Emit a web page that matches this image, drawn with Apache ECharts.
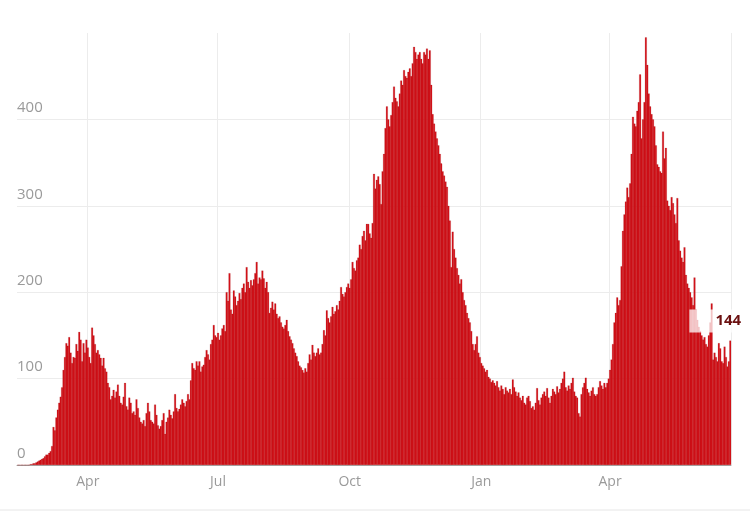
<!DOCTYPE html>
<html>
<head>
<meta charset="utf-8">
<script src="https://cdn.jsdelivr.net/npm/echarts@6/dist/echarts.min.js"></script>
<style>
html,body{margin:0;padding:0;background:#fff;}
#chart{width:750px;height:513px;}
</style>
</head>
<body>
<div id="chart"></div>
<script>
// First day of the series (daily values follow)
const startDate = '2020-02-12';
const monthNames = ['Jan','Feb','Mar','Apr','May','Jun','Jul','Aug','Sep','Oct','Nov','Dec'];
const tickMonthIdx = [0, 3, 6, 9]; // Jan, Apr, Jul, Oct
const yTicks = [0, 100, 200, 300, 400];

// Daily values (one week per row)
const dailyValues = [
  0,0,0,0,0,0,0,
  0,0,1,1,2,2,3,
  4,5,6,7,8,10,12,
  12,14,16,22,44,40,55,
  64,72,79,90,110,125,141,
  138,148,130,118,125,124,140,
  132,154,145,120,141,130,145,
  136,125,118,159,150,140,130,
  133,128,124,115,124,112,108,
  95,90,76,80,87,78,85,
  93,80,72,70,79,95,68,
  64,78,72,60,62,58,76,
  66,55,50,48,52,45,60,
  72,62,52,50,48,70,58,
  46,42,45,52,60,36,50,
  55,64,58,54,62,82,66,
  62,65,70,76,72,68,74,
  82,76,98,118,112,110,120,
  115,120,108,114,116,125,133,
  128,122,140,145,162,150,148,
  153,145,150,158,162,155,200,
  190,222,180,175,202,195,185,
  190,199,192,205,210,200,229,
  212,205,214,208,215,222,235,
  210,217,215,225,216,205,212,
  200,176,182,189,180,187,175,
  170,172,165,160,158,162,168,
  155,149,145,141,135,130,126,
  120,115,113,110,107,112,108,
  118,128,122,139,130,126,130,
  135,128,130,140,156,150,179,
  170,165,172,183,175,178,185,
  180,190,206,198,195,200,206,
  210,205,215,235,228,225,237,
  240,255,250,265,271,260,279,
  279,268,263,280,337,320,330,
  334,325,302,340,360,390,415,
  400,392,405,420,438,425,421,
  415,430,445,440,457,450,448,
  455,459,450,465,484,478,470,
  475,478,470,465,478,475,482,
  470,480,440,406,395,386,378,
  370,360,349,340,335,328,322,
  300,283,229,270,250,240,228,
  220,210,215,200,191,185,176,
  170,165,155,140,133,140,149,
  130,125,118,115,112,108,110,
  102,100,96,98,95,92,97,
  90,86,92,88,82,90,86,
  84,88,82,99,90,85,80,
  84,78,75,80,72,70,78,
  80,74,66,68,64,72,89,
  75,70,78,82,85,80,89,
  78,72,80,88,85,82,91,
  84,88,95,100,108,90,86,
  92,88,95,101,85,80,78,
  60,56,82,90,95,101,88,
  84,80,86,90,82,80,82,
  90,97,92,88,95,90,95,
  100,110,122,140,165,176,194,
  185,191,230,271,290,305,321,
  310,326,360,403,395,392,410,
  420,452,378,400,420,495,463,
  430,415,406,400,392,370,348,
  345,340,338,386,355,367,306,
  300,295,310,303,290,280,309,
  260,248,240,235,252,220,210,
  205,200,194,185,217,180,168,
  160,155,150,145,148,140,137,
  150,165,187,122,130,125,120,
  141,135,120,118,137,125,114,
  120,144
];

// Build date categories
const dates = [];
(function(){
  const d0 = new Date(startDate + 'T00:00:00Z');
  for (let i = 0; i < dailyValues.length; i++) {
    const d = new Date(d0.getTime() + i * 86400000);
    dates.push(d.toISOString().slice(0, 10));
  }
})();

function isQuarterStart(value) {
  const m = parseInt(value.slice(5, 7), 10) - 1;
  const day = parseInt(value.slice(8, 10), 10);
  return day === 1 && tickMonthIdx.indexOf(m) >= 0;
}

const lastIdx = dailyValues.length - 1;
const seriesData = dailyValues.map(function(v, i){
  if (i === lastIdx) {
    return {
      value: v,
      label: {
        show: true,
        position: 'top',
        distance: 8,
        offset: [-14, 0],
        formatter: String(v),
        color: '#6b1010',
        fontWeight: 'bold',
        fontSize: 15,
        fontFamily: 'Open Sans',
        backgroundColor: 'rgba(255,255,255,0.75)',
        padding: [4, 2, 4, 26]
      }
    };
  }
  return v;
});

const chart = echarts.init(document.getElementById('chart'), null, {renderer: 'canvas'});
chart.setOption({
  animation: false,
  backgroundColor: '#ffffff',
  grid: {left: 17, right: 19, top: 33, bottom: 48, containLabel: false},
  xAxis: {
    type: 'category',
    data: dates,
    boundaryGap: true,
    axisTick: {show: false},
    axisLine: {show: true, lineStyle: {color: '#a8a8a8', width: 1}},
    axisLabel: {
      interval: function(index, value){ return isQuarterStart(value); },
      formatter: function(value){ return monthNames[parseInt(value.slice(5, 7), 10) - 1]; },
      color: '#9a9a9a',
      fontSize: 14,
      fontFamily: 'Open Sans',
      margin: 10
    },
    splitLine: {
      show: true,
      interval: function(index, value){ return isQuarterStart(value); },
      lineStyle: {color: '#ececec', width: 1}
    }
  },
  yAxis: {
    type: 'value',
    min: yTicks[0],
    max: 500,
    interval: 100,
    axisLine: {show: false},
    axisTick: {show: false},
    axisLabel: {
      inside: true,
      margin: 0,
      showMaxLabel: false,
      verticalAlign: 'bottom',
      padding: [0, 0, 4, 0],
      color: '#9a9a9a',
      fontSize: 15,
      fontFamily: 'Open Sans'
    },
    splitLine: {show: true, showMaxLine: false, lineStyle: {color: '#ececec', width: 1}}
  },
  series: [{
    type: 'bar',
    data: seriesData,
    barWidth: 1.9,
    itemStyle: {
      color: '#d6121a',
      borderColor: 'rgba(140,10,10,0.55)',
      borderWidth: 0.3
    },
    z: 3
  }],
  graphic: [{
    type: 'line',
    shape: {x1: 0, y1: 510, x2: 750, y2: 510},
    style: {stroke: '#e6e6e6', lineWidth: 1}
  }]
});
</script>
</body>
</html>
